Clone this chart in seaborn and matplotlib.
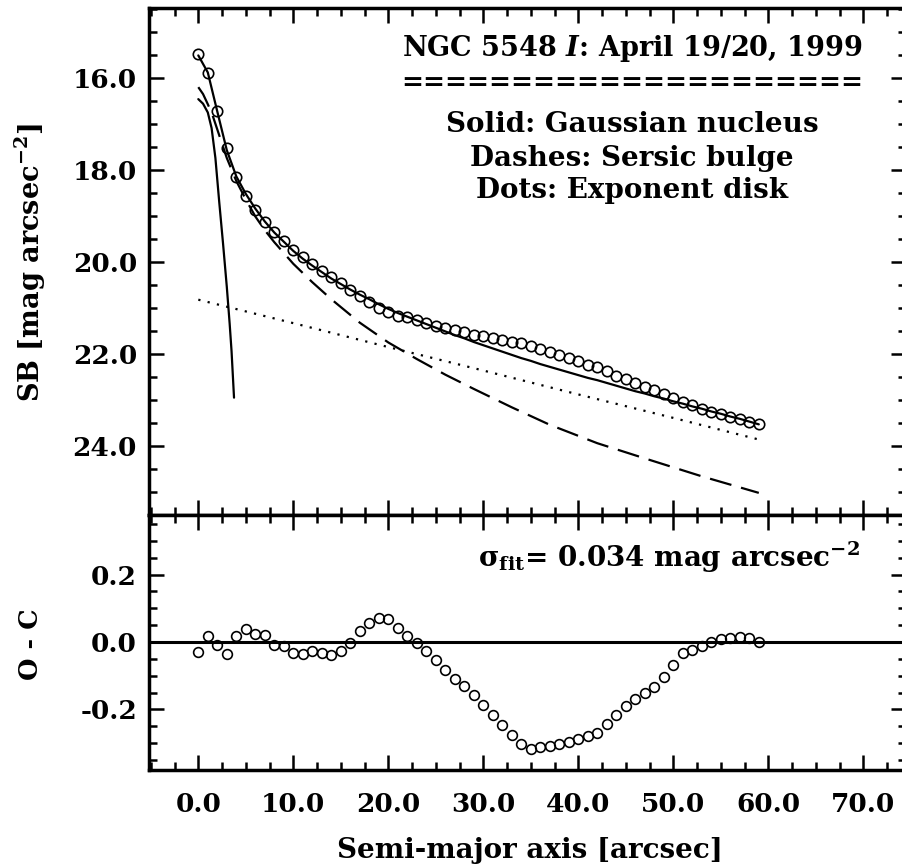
import numpy as np
import pandas as pd
import matplotlib
matplotlib.use("Agg")
import matplotlib.pyplot as plt
from matplotlib.ticker import MultipleLocator, FormatStrFormatter
import seaborn as sns

# ---------------- data ----------------
radius = [0, 1, 2, 3, 4, 5, 6, 7, 8, 9,
          10, 11, 12, 13, 14, 15, 16, 17, 18, 19,
          20, 21, 22, 23, 24, 25, 26, 27, 28, 29,
          30, 31, 32, 33, 34, 35, 36, 37, 38, 39,
          40, 41, 42, 43, 44, 45, 46, 47, 48, 49,
          50, 51, 52, 53, 54, 55, 56, 57, 58, 59]

sb_observed = [15.49, 15.91, 16.73, 17.54, 18.17, 18.57, 18.87, 19.15, 19.36, 19.56,
               19.74, 19.90, 20.06, 20.20, 20.34, 20.47, 20.61, 20.75, 20.88, 21.00,
               21.10, 21.18, 21.21, 21.28, 21.34, 21.40, 21.45, 21.49, 21.54, 21.59,
               21.62, 21.67, 21.71, 21.74, 21.78, 21.83, 21.90, 21.96, 22.04, 22.10,
               22.16, 22.24, 22.30, 22.39, 22.48, 22.56, 22.65, 22.72, 22.79, 22.88,
               22.97, 23.06, 23.13, 23.20, 23.27, 23.32, 23.38, 23.43, 23.49, 23.54]

sb_model = [15.52, 15.89, 16.74, 17.58, 18.15, 18.53, 18.85, 19.13, 19.37, 19.57,
            19.77, 19.94, 20.09, 20.23, 20.37, 20.49, 20.61, 20.72, 20.82, 20.93,
            21.03, 21.12, 21.20, 21.28, 21.36, 21.44, 21.52, 21.60, 21.67, 21.75,
            21.82, 21.89, 21.96, 22.03, 22.10, 22.16, 22.23, 22.29, 22.35, 22.41,
            22.47, 22.53, 22.58, 22.64, 22.70, 22.76, 22.82, 22.87, 22.93, 22.98,
            23.04, 23.09, 23.15, 23.20, 23.26, 23.31, 23.37, 23.42, 23.48, 23.54]

residual = [-0.031, 0.017, -0.009, -0.036, 0.017, 0.040, 0.023, 0.022, -0.009, -0.013,
            -0.034, -0.036, -0.026, -0.032, -0.039, -0.027, -0.002, 0.033, 0.055, 0.071,
            0.069, 0.041, 0.017, -0.004, -0.026, -0.054, -0.083, -0.110, -0.132, -0.158,
            -0.188, -0.217, -0.247, -0.276, -0.303, -0.317, -0.313, -0.308, -0.303, -0.296,
            -0.289, -0.280, -0.270, -0.244, -0.217, -0.189, -0.170, -0.152, -0.134, -0.103,
            -0.067, -0.034, -0.023, -0.013, -0.001, 0.010, 0.013, 0.015, 0.013, 0.001]

gauss_r = [0.0, 0.5, 1.0, 1.4, 1.8, 2.2, 2.6, 3.0, 3.3, 3.5, 3.76]
gauss_sb = [16.47, 16.57, 16.76, 17.10, 17.75, 18.70, 19.60, 20.55, 21.35, 21.95, 22.96]

sersic_r = [0.0, 0.5, 1.0, 1.5, 2.0, 3.0, 4.0, 5.0, 6.0, 7.0, 8.0, 10.0, 12.0, 14.0,
            17.0, 20.0, 23.0, 26.0, 29.0, 33.0, 37.0, 42.0, 47.0, 53.0, 59.0]
sersic_sb = [16.21, 16.36, 16.58, 16.82, 17.13, 17.75, 18.25, 18.65, 19.02, 19.32, 19.58,
             20.05, 20.45, 20.82, 21.33, 21.76, 22.12, 22.46, 22.77, 23.17, 23.55,
             23.95, 24.28, 24.67, 25.03]

disk_r = [0.0, 10.0, 20.0, 30.0, 40.0, 50.0, 59.0]
disk_sb = [20.83, 21.34, 21.86, 22.37, 22.89, 23.40, 23.87]

title_lines = ["NGC 5548 $\\mathit{I}$: April 19/20, 1999",
               "=====================",
               "Solid: Gaussian nucleus",
               "Dashes: Sersic bulge",
               "Dots: Exponent disk"]
sigma_text = "$\\sigma_{\\mathrm{fit}}$= 0.034 mag arcsec$^{\\mathrm{-2}}$"

# ---------------- style ----------------
sns.set_theme(style="white")
plt.rcParams["font.family"] = ["DejaVu Serif"]
plt.rcParams["font.weight"] = "bold"
plt.rcParams["mathtext.fontset"] = "custom"
plt.rcParams["mathtext.rm"] = "DejaVu Serif:bold"
plt.rcParams["mathtext.it"] = "DejaVu Serif:italic:bold"
plt.rcParams["mathtext.bf"] = "DejaVu Serif:bold"
plt.rcParams["mathtext.default"] = "rm"

W, H = 903, 867
fig = plt.figure(figsize=(W / 100, H / 100), dpi=100)
fig.patch.set_facecolor("white")

left_px, right_px = 149.5, 906.0
top_px, mid_px, bot_px = 8.0, 515.0, 770.0
lw_frac = (right_px - left_px) / W
ax1 = fig.add_axes([left_px / W, (H - mid_px) / H, lw_frac, (mid_px - top_px) / H])
ax2 = fig.add_axes([left_px / W, (H - bot_px) / H, lw_frac, (bot_px - mid_px) / H])

df_obs = pd.DataFrame({"r": radius, "sb": sb_observed, "model": sb_model, "res": residual})
df_g = pd.DataFrame({"r": gauss_r, "sb": gauss_sb})
df_s = pd.DataFrame({"r": sersic_r, "sb": sersic_sb})
df_d = pd.DataFrame({"r": disk_r, "sb": disk_sb})

line_w = 1.6
sns.lineplot(data=df_g, x="r", y="sb", ax=ax1, color="black", lw=line_w,
             estimator=None, errorbar=None, sort=False)
sns.lineplot(data=df_s, x="r", y="sb", ax=ax1, color="black", lw=line_w,
             estimator=None, errorbar=None, linestyle=(0, (10, 4.5)))
sns.lineplot(data=df_d, x="r", y="sb", ax=ax1, color="black", lw=line_w,
             estimator=None, errorbar=None, linestyle=(0, (1, 3.3)))
sns.lineplot(data=df_obs, x="r", y="model", ax=ax1, color="black", lw=line_w,
             estimator=None, errorbar=None)
sns.lineplot(data=df_obs, x="r", y="sb", ax=ax1, color="black", linestyle="none",
             marker="o", markersize=7.5, markerfacecolor="none",
             markeredgecolor="black", markeredgewidth=1.2,
             estimator=None, errorbar=None)

ax2.axhline(0.0, color="black", lw=2.2)
sns.lineplot(data=df_obs, x="r", y="res", ax=ax2, color="black", linestyle="none",
             marker="o", markersize=7.0, markerfacecolor="none",
             markeredgecolor="black", markeredgewidth=1.2,
             estimator=None, errorbar=None)

xmin = -(198.3 - left_px) / 9.5
xmax = (right_px - 198.3) / 9.5
for ax in (ax1, ax2):
    ax.set_xlim(xmin, xmax)
    ax.xaxis.set_major_locator(MultipleLocator(10))
    ax.xaxis.set_minor_locator(MultipleLocator(2.5))
    ax.tick_params(which="both", direction="in", top=True, right=True,
                   bottom=True, left=True, width=1.8, colors="black",
                   labelsize=19)
    ax.tick_params(which="major", length=10.8)
    ax.tick_params(which="minor", length=5.8)
    ax.tick_params(axis="y", pad=9)
    for sp in ax.spines.values():
        sp.set_linewidth(2.5)
        sp.set_color("black")
    ax.set_xlabel("")
    ax.set_ylabel("")
    ax.set_facecolor("white")

ax1.set_ylim(16 + (mid_px - 77.5) / 46.0, 16 - (77.5 - top_px) / 46.0)
ax1.yaxis.set_major_locator(MultipleLocator(2))
ax1.yaxis.set_minor_locator(MultipleLocator(0.5))
ax1.yaxis.set_major_formatter(FormatStrFormatter("%.1f"))
ax1.tick_params(axis="x", labelbottom=False)

ax2.set_ylim(-(bot_px - 642.0) / 337.0, (642.0 - mid_px) / 337.0)
ax2.yaxis.set_major_locator(MultipleLocator(0.2))
ax2.yaxis.set_minor_locator(MultipleLocator(0.05))
ax2.yaxis.set_major_formatter(FormatStrFormatter("%.1f"))
ax2.xaxis.set_major_formatter(FormatStrFormatter("%.1f"))
ax2.tick_params(axis="x", pad=16)

def ftext(xp, yp, s, **kw):
    fig.text(xp / W, 1 - yp / H, s, ha="center", va="center", color="black",
             fontweight="bold", **kw)

title_sizes = [19.5, 19, 20, 20, 20]
ys = [48, 83, 124, 158, 191]
for s, yp, fs in zip(title_lines, ys, title_sizes):
    ftext(632, yp, s, fontsize=fs)
ftext(669, 557, sigma_text, fontsize=20)

ftext(30, 263, "SB [mag arcsec$^{\\mathrm{-2}}$]", fontsize=19.5, rotation=90)
ftext(30, 644, "O - C", fontsize=18.5, rotation=90)
ftext(530, 850, "Semi-major axis [arcsec]", fontsize=20)

fig.savefig("out.png", dpi=100, facecolor="white")
